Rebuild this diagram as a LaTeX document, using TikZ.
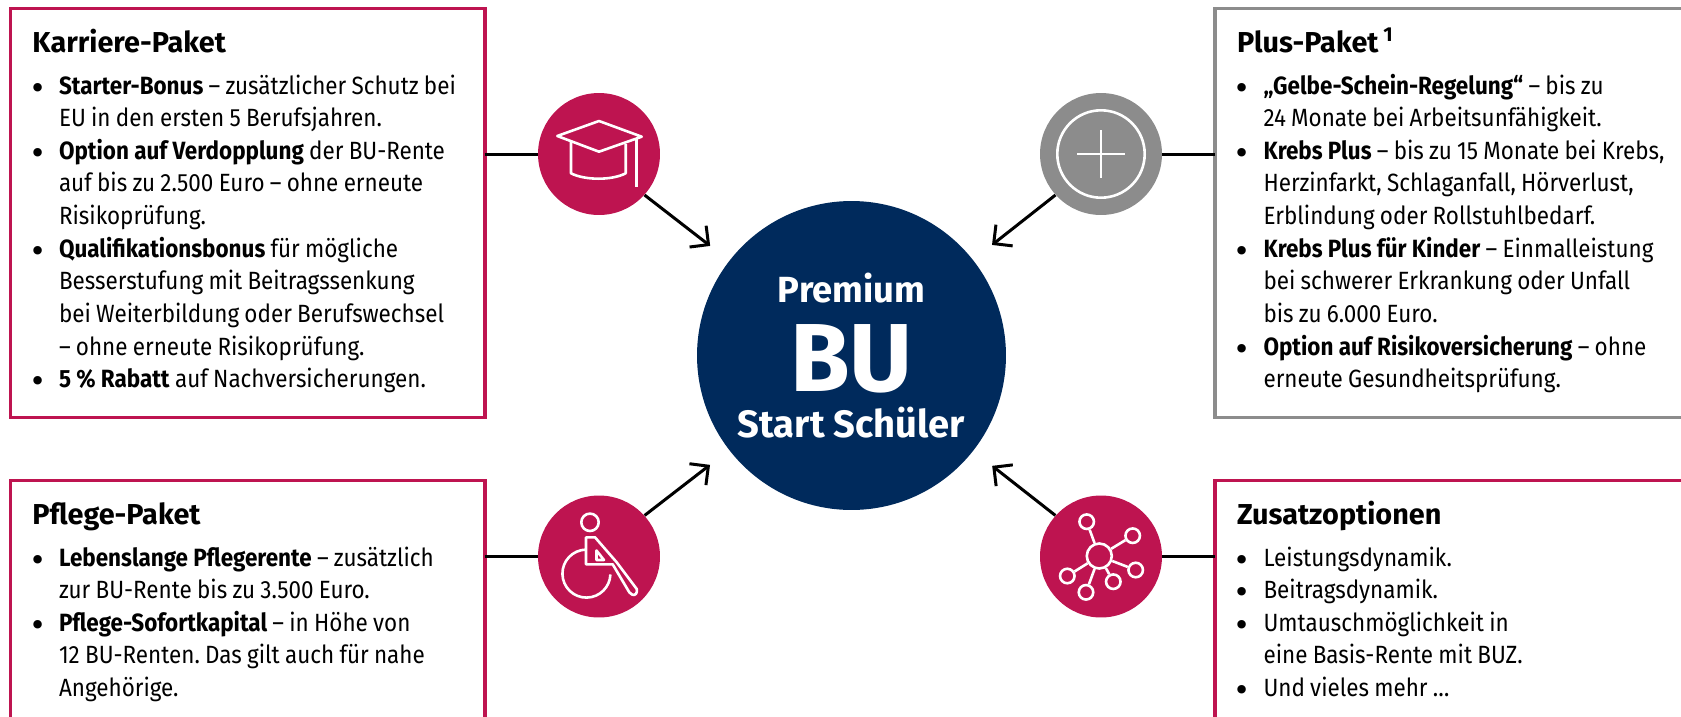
\documentclass[tikz,border=0pt]{standalone}
\usepackage{fontspec}
\setmainfont{Fira Sans}
\newfontfamily\bodyfont[FakeStretch=0.9]{Fira Sans}
\newfontfamily\dotfont{DejaVu Sans}
\usetikzlibrary{arrows.meta, positioning, calc}
\definecolor{crimson}{RGB}{190,20,80}
\definecolor{navy}{RGB}{0,42,92}
\definecolor{midgray}{RGB}{140,140,140}
\newcommand{\cardtitle}[1]{{\normalfont\fontsize{16.4}{18.57}\selectfont\bfseries #1\par}\vspace{4.8pt}}
\newcommand{\pkt}[1]{\noindent\hangindent=15.1pt\hangafter=1\spaceskip=3pt\relax\makebox[15.1pt][l]{\hspace{-1.9pt}\raisebox{-2.3pt}[0pt][0pt]{\dotfont\fontsize{16.5}{16.5}\selectfont\textbullet}}#1\par}

\begin{document}
\begin{tikzpicture}[x=0.02cm, y=-0.02cm]
    \tikzstyle{card} = [rectangle, draw=crimson, line width=0.07cm, anchor=north west, outer sep=0pt, inner xsep=0.44cm, inner ysep=0pt, text height=0.89cm, font=\bodyfont\fontsize{14.2}{18.57}\selectfont\frenchspacing]
    \tikzstyle{toprow} = [text depth=7.29cm]
    \tikzstyle{lowrow} = [text depth=8cm]
    \tikzstyle{leftcol} = [text width=8.61cm]
    \tikzstyle{rightcol} = [text width=10cm]
    \tikzstyle{badge} = [circle, fill=crimson, minimum size=2.44cm, inner sep=0pt]
    \tikzstyle{link} = [line width=0.06cm]
    \tikzstyle{arrow} = [line width=0.06cm, -{Straight Barb[length=0.27cm, width=0.54cm]}, shorten >=0.48cm]
    \tikzstyle{glyph} = [draw=white, line width=0.052cm, line join=round]
    \tikzstyle{spot} = [circle, draw=white, line width=0.052cm, minimum size=0.29cm, inner sep=0pt]

    \clip (0,0) rectangle (1681,717);

    \node[card, toprow, leftcol] (bcareer) at (10.5,8.5) {%
        \cardtitle{Karriere-Paket}
        \pkt{\textbf{Starter-Bonus} – zusätzlicher Schutz bei\newline EU in den ersten 5 Berufsjahren.}
        \pkt{\textbf{Option auf Verdopplung} der BU-Rente\newline auf bis zu 2.500 Euro – ohne erneute\newline Risikoprüfung.}
        \pkt{\textbf{Qualifikationsbonus} für mögliche\newline Besserstufung mit Beitragssenkung\newline bei Weiterbildung oder Berufswechsel\newline – ohne erneute Risikoprüfung.}
        \pkt{\textbf{5 \% Rabatt} auf Nachversicherungen.}};
    \node[card, toprow, rightcol, draw=midgray] (bplus) at (1215,8.5) {%
        \cardtitle{Plus-Paket\,\textsuperscript{1}}
        \pkt{\textbf{„Gelbe-Schein-Regelung“} – bis zu\newline 24 Monate bei Arbeitsunfähigkeit.}
        \pkt{\textbf{Krebs Plus} – bis zu 15 Monate bei Krebs,\newline Herzinfarkt, Schlaganfall, Hörverlust,\newline Erblindung oder Rollstuhlbedarf.}
        \pkt{\textbf{Krebs Plus für Kinder} – Einmalleistung\newline bei schwerer Erkrankung oder Unfall\newline bis zu 6.000 Euro.}
        \pkt{\textbf{Option auf Risikoversicherung} – ohne\newline erneute Gesundheitsprüfung.}};
    \node[card, lowrow, leftcol] (bcare) at (10.5,480.5) {%
        \cardtitle{Pflege-Paket}
        \pkt{\textbf{Lebenslange Pflegerente} – zusätzlich\newline zur BU-Rente bis zu 3.500 Euro.}
        \pkt{\textbf{Pflege-Sofortkapital} – in Höhe von\newline 12 BU-Renten. Das gilt auch für nahe\newline Angehörige.}};
    \node[card, lowrow, rightcol] (boptions) at (1215,480.5) {%
        \cardtitle{Zusatzoptionen}
        \pkt{Leistungsdynamik.}
        \pkt{Beitragsdynamik.}
        \pkt{Umtauschmöglichkeit in\newline eine Basis-Rente mit BUZ.}
        \pkt{Und vieles mehr …}};

    \node[circle, fill=navy, minimum size=6.18cm, inner sep=0pt, text=white, align=center, font=\bfseries] (premium) at (851.5,355.5) {%
        \fontsize{20.7}{24}\selectfont Premium\\[11pt]
        \fontsize{55}{50.6}\selectfont BU\\[6.7pt]
        \fontsize{21.7}{26.7}\selectfont Start Schüler};

    \node[badge] (icareer) at (599,154) {};
    \node[badge, fill=midgray] (iplus) at (1101,154) {};
    \node[badge] (icare) at (599,556.5) {};
    \node[badge] (ioptions) at (1101,556.5) {};

    \draw[link] (bcareer.east |- icareer) -- (icareer);
    \draw[link] (bcare.east |- icare) -- (icare);
    \draw[link] (bplus.west |- iplus) -- (iplus);
    \draw[link] (boptions.west |- ioptions) -- (ioptions);

    \draw[arrow] (icareer.-42) -- (premium);
    \draw[arrow] (iplus.222) -- (premium);
    \draw[arrow] (icare.42) -- (premium);
    \draw[arrow] (ioptions.138) -- (premium);

    % graduation cap
    \begin{scope}[shift={(icareer.center)}]
        \draw[glyph] (-41.7,-18) -- (0,-33) -- (42.7,-17.3) -- (0,-2.3) -- cycle;
        \draw[glyph] (-28,-13) -- (-28,19.3) .. controls (-14,26.5) and (13,26.5) .. (26.7,19.3) -- (26.7,-10);
        \draw[glyph] (37.7,-16.3) -- (37.7,33.3);
    \end{scope}

    % plus sign in a ring
    \begin{scope}[shift={(iplus.center)}]
        \draw[glyph] (0,0) circle[radius=43.7];
        \draw[glyph, line width=0.04cm] (-24,0) -- (24,0);
        \draw[glyph, line width=0.04cm] (0,-24) -- (0,24);
    \end{scope}

    % person in a wheelchair
    \begin{scope}[shift={(icare.center)}]
        \draw[glyph] (-9,-34.2) circle[radius=8.7];
        \draw[glyph] (-13,-19.2) -- (-4,-19.2) -- (17.7,5.8) -- (37.7,32.5) .. controls (39,36) and (36,40) .. (33,38) -- (30.3,35.8) -- (13.7,7.8) -- (-13,7.8) -- cycle;
        \draw[glyph] (-2.5,-6) -- (-2.5,3.5) -- (5,3.5) -- cycle;
        \draw[glyph] (-13,-6.9) arc[start angle=-91, end angle=-358, radius=24];
    \end{scope}

    % hub with spokes
    \begin{scope}[shift={(ioptions.center)}]
        \node[spot, minimum size=0.5cm] (hub) at (-1.7,-0.5) {};
        \node[spot] (sat1) at (-14.3,-34.8) {};
        \node[spot] (sat2) at (31.7,-20.8) {};
        \node[spot] (sat3) at (34.7,13.5) {};
        \node[spot] (sat4) at (12.3,25.2) {};
        \node[spot] (sat5) at (-15,35.8) {};
        \node[spot] (sat6) at (-33.7,19.5) {};
        \draw[glyph] (hub) -- (sat1);
        \draw[glyph] (hub) -- (sat2);
        \draw[glyph] (hub) -- (sat3);
        \draw[glyph] (hub) -- (sat4);
        \draw[glyph] (hub) -- (sat5);
        \draw[glyph] (hub) -- (sat6);
    \end{scope}
\end{tikzpicture}
\end{document}
